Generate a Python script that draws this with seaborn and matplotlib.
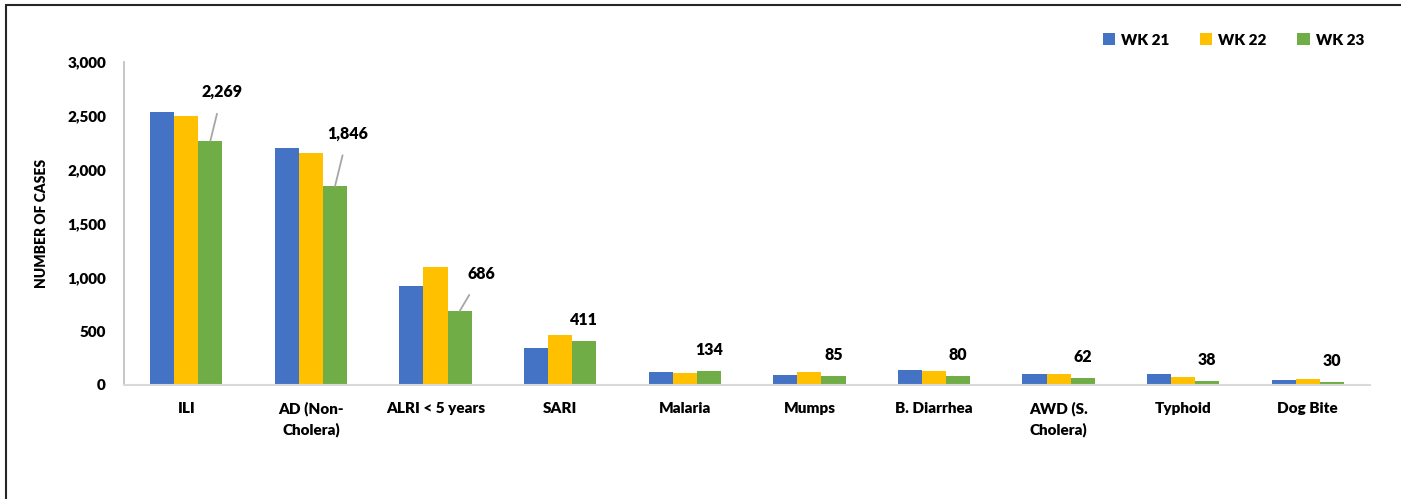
import matplotlib
matplotlib.use("Agg")
import matplotlib.pyplot as plt
from matplotlib.patches import Patch
from matplotlib.ticker import FuncFormatter
import seaborn as sns
import pandas as pd

# diseases shown on the x axis
diseases = ["ILI", "AD (Non-\nCholera)", "ALRI < 5 years", "SARI", "Malaria",
            "Mumps", "B. Diarrhea", "AWD (S.\nCholera)", "Typhoid", "Dog Bite"]
weeks = ["WK 21", "WK 22", "WK 23"]

# cases per week
wk21 = [2540, 2200, 920, 340, 125, 95, 138, 105, 100, 48]
wk22 = [2500, 2150, 1095, 460, 112, 118, 130, 102, 78, 53]
wk23 = [2269, 1846, 686, 411, 134, 85, 80, 62, 38, 30]

colors = ["#4472C4", "#FFC000", "#70AD47"]

#long form table for seaborn
df = pd.DataFrame({
    "disease": diseases * 3,
    "week": [weeks[0]] * 10 + [weeks[1]] * 10 + [weeks[2]] * 10,
    "cases": wk21 + wk22 + wk23,
})

W = "heavy"

sns.set_theme(style="white")
plt.rcParams["font.family"] = ["Lato", "DejaVu Sans"]
plt.rcParams["font.weight"] = W
plt.rcParams["text.color"] = "black"
plt.rcParams["axes.labelcolor"] = "black"
plt.rcParams["xtick.color"] = "black"
plt.rcParams["ytick.color"] = "black"

fig = plt.figure(figsize=(14.01, 4.99), dpi=100)
ax = fig.add_axes([0.0885, 0.2285, 0.8895, 0.6473])

sns.barplot(data=df, x="disease", y="cases", hue="week", palette=colors,
            width=0.58, saturation=1, linewidth=0, ax=ax, legend=False)

ax.set_xlim(-0.5, 9.5)
ax.set_ylim(0, 3000)
ax.set_yticks([0, 500, 1000, 1500, 2000, 2500, 3000])
ax.yaxis.set_major_formatter(FuncFormatter(lambda v, p: f"{int(v):,}"))
ax.tick_params(axis="y", length=0, pad=13, labelsize=11)
ax.tick_params(axis="x", length=0, pad=12, labelsize=11)
for lbl in ax.get_xticklabels():
    lbl.set_linespacing(1.55)
    lbl.set_fontweight(W)
for lbl in ax.get_yticklabels():
    lbl.set_fontweight(W)

ax.set_xlabel("")
ax.set_ylabel("NUMBER OF CASES", fontsize=10, fontweight=W, labelpad=14)

for s in ["top", "right"]:
    ax.spines[s].set_visible(False)
ax.spines["left"].set_color("#bfbfbf")
ax.spines["bottom"].set_color("#d9d9d9")
ax.spines["bottom"].set_linewidth(1.5)

#labels only on the latest week, first three with leader lines
leaders = {0: (12, 49), 1: (13, 53), 2: (22, 37)}
for i, bar in enumerate(ax.containers[2]):
    x = bar.get_x() + bar.get_width() / 2
    v = wk23[i]
    if i in leaders:
        dx, dy = leaders[i]
        ax.annotate(f"{v:,}", xy=(x, v), xytext=(dx, dy), textcoords="offset pixels",
                    ha="center", va="center", fontsize=11.5, fontweight=W,
                    arrowprops=dict(arrowstyle="-", color="#a6a6a6", lw=1.3,
                                    shrinkA=8, shrinkB=0))
    else:
        ax.annotate(f"{v:,}", xy=(x, v), xytext=(0, 21), textcoords="offset pixels",
                    ha="center", va="center", fontsize=11.5, fontweight=W)

handles = [Patch(facecolor=c, edgecolor="none", label=w) for c, w in zip(colors, weeks)]
ax.legend(handles=handles, loc="center right", bbox_to_anchor=(1.0, 1.068), ncol=3,
          frameon=False, handlelength=0.8, handleheight=0.8,
          handletextpad=0.4, columnspacing=2.0, borderaxespad=0,
          prop={"weight": W, "size": 11})

# outer frame (left and top edges visible in the original)
fig.add_artist(plt.Line2D([0.0045, 0.0045], [0, 0.99], transform=fig.transFigure,
                          color="#262626", lw=1.5))
fig.add_artist(plt.Line2D([0.0045, 1.0], [0.99, 0.99], transform=fig.transFigure,
                          color="#262626", lw=1.5))

fig.savefig("out.png", dpi=100)
